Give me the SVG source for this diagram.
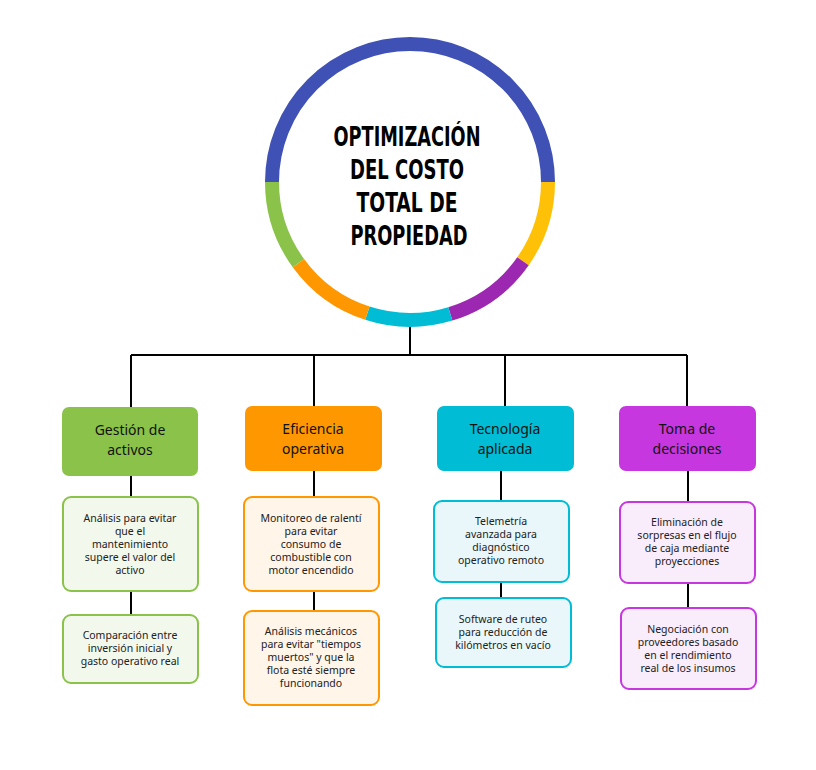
<svg xmlns="http://www.w3.org/2000/svg" width="816" height="770" viewBox="0 0 816 770">
<style>
.ring{fill:none;stroke-width:14}
.con{stroke:#000;stroke-width:2;fill:none}
.h{font-family:"Noto Sans","Liberation Sans",sans-serif;font-size:14px;fill:#111;text-anchor:middle}
.d{font-family:"Noto Sans","Liberation Sans",sans-serif;font-size:10.5px;fill:#222;text-anchor:middle}
.t{font-family:"DejaVu Sans Condensed","DejaVu Sans",sans-serif;font-weight:bold;font-size:26px;fill:#000;text-anchor:middle}
</style>
<rect width="816" height="770" fill="#fff"/>
<g id="connectors">
<path class="con" d="M410,305V355M131,355H687M131,355V407M314,355V406M505,355V406M687,355V406"/>
<path class="con" d="M131,476V497M131,591V615M314,471V497M314,591V611M501,471V501M501,582V598M688,471V502M688,583V608"/>
</g>
<g id="center">
<circle cx="410" cy="182" r="138" fill="#fff"/>
<path class="ring" stroke="#3F51B5" d="M272,182A138,138 0 0 1 548,182"/>
<path class="ring" stroke="#FFC107" d="M548,182A138,138 0 0 1 523,261.2"/>
<path class="ring" stroke="#9C27B0" d="M523,261.2A138,138 0 0 1 450.3,313.9"/>
<path class="ring" stroke="#00BCD4" d="M450.3,313.9A138,138 0 0 1 367.4,313.2"/>
<path class="ring" stroke="#FF9800" d="M367.4,313.2A138,138 0 0 1 298.4,263.1"/>
<path class="ring" stroke="#8BC34A" d="M298.4,263.1A138,138 0 0 1 272,182"/>
<text class="t" x="407" y="146" textLength="147" lengthAdjust="spacingAndGlyphs">OPTIMIZACIÓN</text>
<text class="t" x="407" y="179" textLength="114" lengthAdjust="spacingAndGlyphs">DEL COSTO</text>
<text class="t" x="407" y="212" textLength="101" lengthAdjust="spacingAndGlyphs">TOTAL DE</text>
<text class="t" x="409" y="245" textLength="117" lengthAdjust="spacingAndGlyphs">PROPIEDAD</text>
</g>
<g id="h1"><rect x="62" y="407" width="136" height="69" rx="7" fill="#8BC34A"/><text class="h" x="130" y="435">Gestión de</text><text class="h" x="130" y="455">activos</text></g>
<g id="h2"><rect x="245" y="406" width="137" height="65" rx="7" fill="#FF9800"/><text class="h" x="313" y="434">Eficiencia</text><text class="h" x="313" y="454">operativa</text></g>
<g id="h3"><rect x="437" y="406" width="137" height="65" rx="7" fill="#00BCD4"/><text class="h" x="505" y="434">Tecnología</text><text class="h" x="505" y="454">aplicada</text></g>
<g id="h4"><rect x="619" y="406" width="137" height="65" rx="7" fill="#C737DF"/><text class="h" x="687" y="434">Toma de</text><text class="h" x="687" y="454">decisiones</text></g>
<g id="g1"><rect x="63" y="497" width="135" height="94" rx="8" fill="#F2F8EC" stroke="#8BC34A" stroke-width="2"/>
<text class="d" x="130" y="522">Análisis para evitar</text><text class="d" x="130" y="535">que el</text><text class="d" x="130" y="548">mantenimiento</text><text class="d" x="130" y="561">supere el valor del</text><text class="d" x="130" y="574">activo</text></g>
<g id="g2"><rect x="63" y="615" width="135" height="68" rx="8" fill="#F2F8EC" stroke="#8BC34A" stroke-width="2"/>
<text class="d" x="130" y="639">Comparación entre</text><text class="d" x="130" y="652">inversión inicial y</text><text class="d" x="130" y="665">gasto operativo real</text></g>
<g id="o1"><rect x="244" y="497" width="135" height="94" rx="8" fill="#FFF5E9" stroke="#FF9800" stroke-width="2"/>
<text class="d" x="311" y="522">Monitoreo de ralentí</text><text class="d" x="311" y="535">para evitar</text><text class="d" x="311" y="548">consumo de</text><text class="d" x="311" y="561">combustible con</text><text class="d" x="311" y="574">motor encendido</text></g>
<g id="o2"><rect x="244" y="611" width="135" height="94" rx="8" fill="#FFF5E9" stroke="#FF9800" stroke-width="2"/>
<text class="d" x="311" y="635">Análisis mecánicos</text><text class="d" x="311" y="648">para evitar "tiempos</text><text class="d" x="311" y="661">muertos" y que la</text><text class="d" x="311" y="674">flota esté siempre</text><text class="d" x="311" y="687">funcionando</text></g>
<g id="c1"><rect x="434" y="501" width="135" height="81" rx="8" fill="#E9F7FA" stroke="#00BCD4" stroke-width="2"/>
<text class="d" x="501" y="525">Telemetría</text><text class="d" x="501" y="538">avanzada para</text><text class="d" x="501" y="551">diagnóstico</text><text class="d" x="501" y="564">operativo remoto</text></g>
<g id="c2"><rect x="436" y="598" width="135" height="69" rx="8" fill="#E9F7FA" stroke="#00BCD4" stroke-width="2"/>
<text class="d" x="503" y="623">Software de ruteo</text><text class="d" x="503" y="636">para reducción de</text><text class="d" x="503" y="649">kilómetros en vacío</text></g>
<g id="p1"><rect x="620" y="502" width="135" height="81" rx="8" fill="#F9ECFB" stroke="#C737DF" stroke-width="2"/>
<text class="d" x="687" y="526">Eliminación de</text><text class="d" x="687" y="539">sorpresas en el flujo</text><text class="d" x="687" y="552">de caja mediante</text><text class="d" x="687" y="565">proyecciones</text></g>
<g id="p2"><rect x="621" y="608" width="135" height="81" rx="8" fill="#F9ECFB" stroke="#C737DF" stroke-width="2"/>
<text class="d" x="688" y="633">Negociación con</text><text class="d" x="688" y="646">proveedores basado</text><text class="d" x="688" y="659">en el rendimiento</text><text class="d" x="688" y="672">real de los insumos</text></g>
</svg>
